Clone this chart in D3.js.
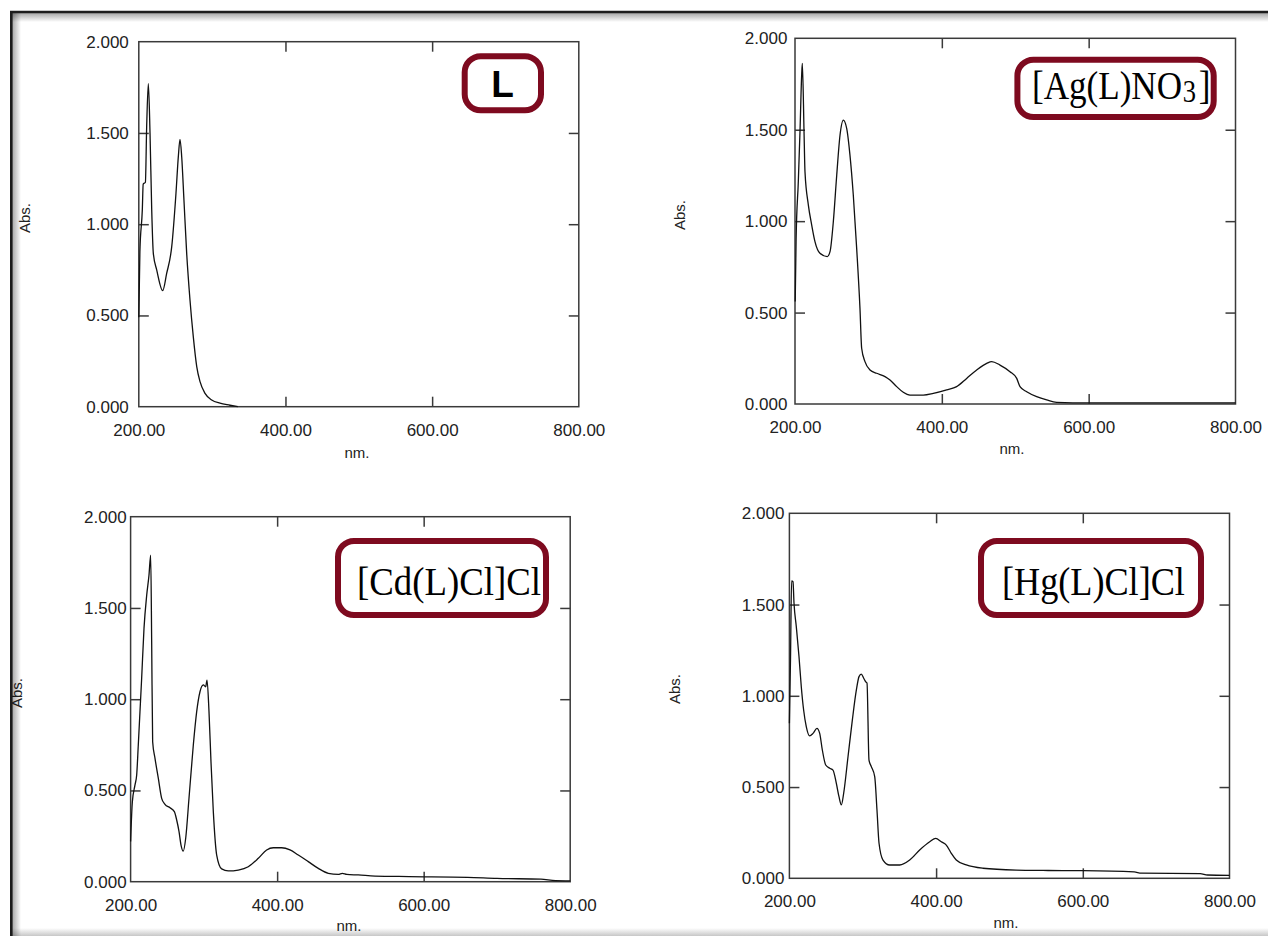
<!DOCTYPE html>
<html>
<head>
<meta charset="utf-8">
<script src="https://cdn.jsdelivr.net/npm/d3@7"></script>
<style>
  html, body { margin: 0; padding: 0; background: #fff; }
  svg { display: block; }
</style>
</head>
<body>
<svg id="chart" width="1268" height="936"></svg>
<script>
// ---------- DATA ----------
const xTickValues = [200, 400, 600, 800];
const yTickValues = [0, 0.5, 1.0, 1.5, 2.0];
const xInnerTicks = [400, 600];
const yInnerTicks = [0.5, 1.0, 1.5];

const panelTitles = ["L", "[Ag(L)NO3]", "[Cd(L)Cl]Cl", "[Hg(L)Cl]Cl"];

// Spectrum L
const wlL  = [200, 201.5, 204.8, 206, 209, 210.7, 213, 215.3, 217.6, 219.8, 224.4, 232.6, 238, 244.9, 250.7, 253.9, 256.2, 258.5, 261.6, 265.3, 269.8, 274.3, 279, 283.5, 290.3, 299.4, 310.7, 324.4, 335];
const absL = [0.49, 0.85, 1.08, 1.22, 1.23, 1.53, 1.77, 1.50, 1.08, 0.84, 0.75, 0.636, 0.73, 0.877, 1.17, 1.37, 1.465, 1.37, 1.13, 0.84, 0.585, 0.384, 0.22, 0.137, 0.073, 0.037, 0.019, 0.008, 0.0];

// Spectrum [Ag(L)NO3]
const wlAg  = [200.3, 201.5, 204.5, 206.8, 209.1, 210, 212.3, 213.6, 218.2, 222.7, 227.2, 234, 244, 247.7, 252.2, 256.8, 261.3, 265.8, 270.4, 274.9, 279.4, 284, 288.5, 290.8, 295.3, 302.2, 311.2, 322.6, 329.4, 338.5, 347.5, 356.6, 374.8, 388.4, 406.6, 420.2, 433.8, 447.5, 461.1, 467.9, 479.2, 492.8, 502, 506.5, 515.6, 529.2, 542.8, 556.4, 600, 700, 800];
const absAg = [0.56, 0.9, 1.216, 1.49, 1.80, 1.863, 1.49, 1.27, 1.088, 0.98, 0.888, 0.824, 0.806, 0.833, 0.997, 1.25, 1.47, 1.553, 1.508, 1.36, 1.143, 0.851, 0.523, 0.305, 0.232, 0.186, 0.168, 0.15, 0.131, 0.095, 0.064, 0.049, 0.049, 0.058, 0.077, 0.095, 0.14, 0.186, 0.222, 0.232, 0.213, 0.177, 0.14, 0.095, 0.067, 0.04, 0.022, 0.009, 0.006, 0.006, 0.006];

// Spectrum [Cd(L)Cl]Cl
const wlCd  = [200, 202.4, 206, 208.3, 210.5, 215.1, 218.3, 222, 225.1, 227.4, 228.8, 230.1, 233.3, 237.8, 242.4, 246.9, 253.8, 259.7, 262.9, 266.1, 268.8, 271.9, 275.2, 279.7, 285.6, 290.2, 294.7, 299.3, 302.5, 304.3, 307, 309.7, 312.9, 317.5, 324.3, 333.3, 347, 360.6, 374.3, 385.7, 394.8, 406.2, 417.6, 428.9, 442.5, 456.2, 469.8, 483.5, 489, 495, 510.8, 533.6, 580, 660, 700, 760, 780, 800];
const absCd = [0.22, 0.438, 0.53, 0.585, 0.749, 1.115, 1.389, 1.571, 1.68, 1.79, 1.297, 0.767, 0.676, 0.567, 0.457, 0.424, 0.405, 0.384, 0.338, 0.274, 0.201, 0.168, 0.238, 0.457, 0.749, 0.932, 1.041, 1.078, 1.068, 1.105, 0.932, 0.658, 0.384, 0.146, 0.07, 0.059, 0.064, 0.082, 0.128, 0.174, 0.186, 0.186, 0.174, 0.146, 0.11, 0.073, 0.046, 0.04, 0.046, 0.04, 0.037, 0.031, 0.028, 0.024, 0.018, 0.014, 0.006, 0.005];

// Spectrum [Hg(L)Cl]Cl
const wlHg  = [200, 201.5, 203, 204.9, 206.3, 209.4, 213.1, 216.2, 219.4, 223, 227.6, 232.2, 237.6, 241.3, 244.9, 249.5, 254.9, 259.4, 264, 267.6, 270.8, 274, 279.9, 285.8, 291.3, 294.9, 298, 301.3, 304, 305.8, 308.5, 311.7, 316.3, 319.4, 322.2, 327.6, 336.7, 350.4, 364, 377.6, 391.3, 399.5, 407.1, 413.9, 420.7, 427.5, 441.2, 463.9, 509.3, 545.7, 600, 670, 680, 760, 770, 800];
const absHg = [0.85, 1.2, 1.63, 1.625, 1.507, 1.379, 1.214, 1.05, 0.922, 0.831, 0.78, 0.794, 0.822, 0.794, 0.703, 0.621, 0.603, 0.593, 0.52, 0.447, 0.402, 0.466, 0.666, 0.867, 1.032, 1.105, 1.119, 1.096, 1.077, 1.07, 0.648, 0.612, 0.557, 0.374, 0.192, 0.1, 0.073, 0.073, 0.1, 0.155, 0.2, 0.219, 0.2, 0.182, 0.137, 0.1, 0.073, 0.055, 0.045, 0.043, 0.042, 0.035, 0.028, 0.026, 0.018, 0.016];

// ---------- LAYOUT (styles / positions) ----------
const panels = [
  { wl: wlL,  ab: absL,  title: panelTitles[0], L: 138.8, R: 578.8, T: 41.7, B: 406.7, yPad: 10,
    box: [464.7, 56.3, 541, 110.3], text: { x: 502.5, y: 96.5, sans: true },
    absPos: [24.5, 218], nmPos: [357, 452] },
  { wl: wlAg, ab: absAg, title: panelTitles[1], L: 795, R: 1235.5, T: 38.3, B: 404, yPad: 7.6,
    box: [1017.4, 59.7, 1213.7, 117], text: { x: 1032, y: 99, w: 175 },
    absPos: [679, 215], nmPos: [1012, 448] },
  { wl: wlCd, ab: absCd, title: panelTitles[2], L: 130.6, R: 570.2, T: 516.7, B: 881.7, yPad: 4,
    box: [338, 541, 546, 615], text: { x: 357, y: 595, w: 184 },
    absPos: [16, 693], nmPos: [349, 925] },
  { wl: wlHg, ab: absHg, title: panelTitles[3], L: 789.4, R: 1229.5, T: 513.3, B: 878.3, yPad: 5,
    box: [981, 541, 1201, 615], text: { x: 1002, y: 595, w: 183 },
    absPos: [674, 689], nmPos: [1006, 922] }
];

const svg = d3.select("#chart");
const defs = svg.append("defs");
const gTop = defs.append("linearGradient").attr("id", "shTop").attr("x1", 0).attr("y1", 0).attr("x2", 0).attr("y2", 1);
gTop.append("stop").attr("offset", "0%").attr("stop-color", "#000").attr("stop-opacity", 0.35);
gTop.append("stop").attr("offset", "100%").attr("stop-color", "#000").attr("stop-opacity", 0);
const gLeft = defs.append("linearGradient").attr("id", "shLeft").attr("x1", 0).attr("y1", 0).attr("x2", 1).attr("y2", 0);
gLeft.append("stop").attr("offset", "0%").attr("stop-color", "#000").attr("stop-opacity", 0.35);
gLeft.append("stop").attr("offset", "100%").attr("stop-color", "#000").attr("stop-opacity", 0);
const gBot = defs.append("linearGradient").attr("id", "shBot").attr("x1", 0).attr("y1", 0).attr("x2", 0).attr("y2", 1);
gBot.append("stop").attr("offset", "0%").attr("stop-color", "#000").attr("stop-opacity", 0);
gBot.append("stop").attr("offset", "100%").attr("stop-color", "#000").attr("stop-opacity", 0.22);

svg.append("rect").attr("width", 1268).attr("height", 936).attr("fill", "#fff");

const sans = "'Liberation Sans', Arial, sans-serif";
const serif = "'Liberation Serif', 'Times New Roman', serif";
const fmtX = d3.format(".2f"), fmtY = d3.format(".3f");

panels.forEach(p => {
  const x = d3.scaleLinear().domain([200, 800]).range([p.L, p.R]);
  const y = d3.scaleLinear().domain([0, 2]).range([p.B, p.T]);
  const g = svg.append("g");

  // frame
  g.append("rect").attr("x", p.L).attr("y", p.T).attr("width", p.R - p.L).attr("height", p.B - p.T)
    .attr("fill", "none").attr("stroke", "#3a3a3a").attr("stroke-width", 1.5);

  // inner ticks on all four sides
  const tickStyle = sel => {
    sel.select(".domain").remove();
    sel.selectAll(".tick line").attr("stroke", "#3a3a3a").attr("stroke-width", 1.5);
  };
  g.append("g").attr("transform", `translate(0,${p.B})`)
    .call(d3.axisBottom(x).tickValues(xInnerTicks).tickSize(-10).tickFormat("")).call(tickStyle);
  g.append("g").attr("transform", `translate(0,${p.T})`)
    .call(d3.axisTop(x).tickValues(xInnerTicks).tickSize(-10).tickFormat("")).call(tickStyle);
  g.append("g").attr("transform", `translate(${p.L},0)`)
    .call(d3.axisLeft(y).tickValues(yInnerTicks).tickSize(-10).tickFormat("")).call(tickStyle);
  g.append("g").attr("transform", `translate(${p.R},0)`)
    .call(d3.axisRight(y).tickValues(yInnerTicks).tickSize(-10).tickFormat("")).call(tickStyle);

  // tick labels
  const lab = sel => {
    sel.select(".domain").remove();
    sel.selectAll(".tick line").remove();
    sel.selectAll(".tick text").attr("fill", "#222").style("font-family", sans).style("font-size", "17px");
  };
  g.append("g").attr("transform", `translate(0,${p.B})`)
    .call(d3.axisBottom(x).tickValues(xTickValues).tickSize(0).tickPadding(17).tickFormat(fmtX)).call(lab);
  g.append("g").attr("transform", `translate(${p.L},0)`)
    .call(d3.axisLeft(y).tickValues(yTickValues).tickSize(0).tickPadding(p.yPad).tickFormat(fmtY)).call(lab);

  // axis titles
  g.append("text").attr("transform", `translate(${p.absPos[0]},${p.absPos[1]}) rotate(-90)`)
    .attr("text-anchor", "middle").attr("dominant-baseline", "central")
    .style("font-family", sans).style("font-size", "15px").attr("fill", "#222").text("Abs.");
  g.append("text").attr("x", p.nmPos[0]).attr("y", p.nmPos[1])
    .attr("text-anchor", "middle").attr("dominant-baseline", "central")
    .style("font-family", sans).style("font-size", "15px").attr("fill", "#222").text("nm.");

  // spectrum
  const pts = p.wl.map((w, i) => [w, p.ab[i]]);
  g.append("path").datum(pts)
    .attr("fill", "none").attr("stroke", "#111").attr("stroke-width", 1.3).attr("stroke-linejoin", "round")
    .attr("d", d3.line().x(d => x(d[0])).y(d => y(d[1])).curve(d3.curveMonotoneX));

  // title box
  const b = p.box;
  g.append("rect").attr("x", b[0]).attr("y", b[1]).attr("width", b[2] - b[0]).attr("height", b[3] - b[1])
    .attr("rx", 16).attr("ry", 16).attr("fill", "#fff").attr("stroke", "#7e0a1f").attr("stroke-width", 6);

  if (p.text.sans) {
    g.append("text").attr("x", p.text.x).attr("y", p.text.y).attr("text-anchor", "middle")
      .style("font-family", sans).style("font-weight", "bold").style("font-size", "37px")
      .attr("fill", "#000").text(p.title);
  } else {
    const tg = g.append("g");
    const t = tg.append("text").attr("x", 0).attr("y", 0)
      .style("font-family", serif).style("font-size", "41px").attr("fill", "#000");
    const m = p.title.match(/^(.*NO)(3)(\])$/);
    if (m) {
      t.append("tspan").text(m[1]);
      t.append("tspan").attr("dy", 3).attr("dx", 1).style("font-size", "31px").text(m[2]);
      t.append("tspan").attr("dy", -3).attr("dx", 3).text(m[3]);
    } else {
      t.text(p.title);
    }
    const wNat = t.node().getComputedTextLength() || t.node().getBBox().width;
    const sx = wNat > 0 ? p.text.w / wNat : 1;
    tg.attr("transform", `translate(${p.text.x},${p.text.y}) scale(${sx},1)`);
  }
});

// outer window border with inner shadow
svg.append("rect").attr("x", 12).attr("y", 13).attr("width", 1256).attr("height", 9).attr("fill", "url(#shTop)");
svg.append("rect").attr("x", 12).attr("y", 13).attr("width", 9).attr("height", 923).attr("fill", "url(#shLeft)");
svg.append("rect").attr("x", 12).attr("y", 928).attr("width", 1256).attr("height", 8).attr("fill", "url(#shBot)");
svg.append("line").attr("x1", 10).attr("y1", 12).attr("x2", 1268).attr("y2", 12).attr("stroke", "#1c1c1c").attr("stroke-width", 2.6);
svg.append("line").attr("x1", 11.3).attr("y1", 11).attr("x2", 11.3).attr("y2", 936).attr("stroke", "#1c1c1c").attr("stroke-width", 2.6);
</script>
</body>
</html>
